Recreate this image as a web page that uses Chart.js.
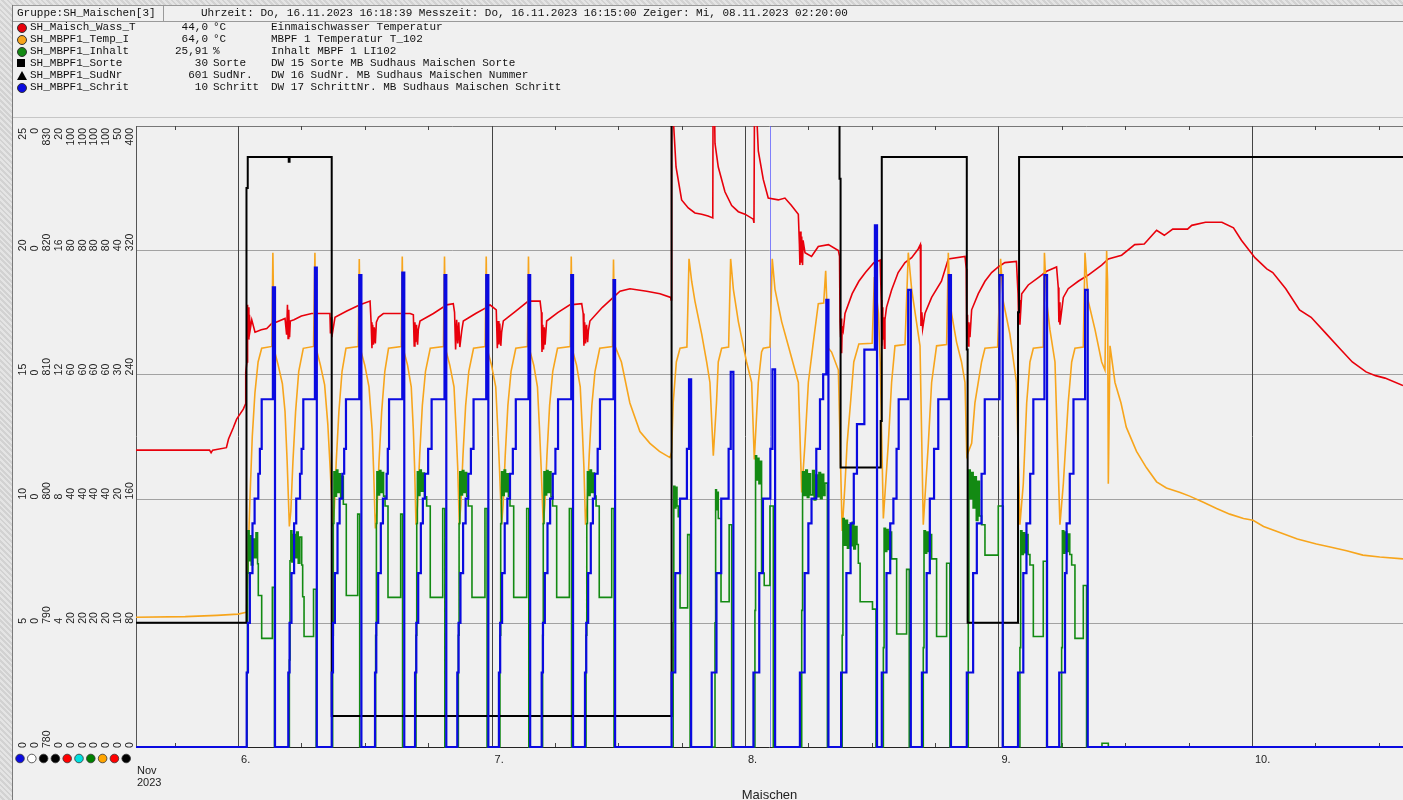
<!DOCTYPE html>
<html>
<head>
<meta charset="utf-8">
<script src="https://cdn.jsdelivr.net/npm/chart.js@4.4.0/dist/chart.umd.min.js"></script>
<style>
  body {
    margin: 0; width: 1403px; height: 800px; overflow: hidden; position: relative;
    background: repeating-linear-gradient(45deg, #e4e4e4 0 2px, #d2d2d2 2px 4px);
  }
  #panel { position: absolute; left: 12px; top: 5px; right: 0; bottom: 0; background: #f0f0f0; border-left: 1px solid #7a7a7a; }
  #row1 { position: absolute; left: 13px; top: 5px; right: 0; height: 15px; border-top: 1px solid #9a9a9a; border-bottom: 1px solid #9a9a9a; }
  #grp { position: absolute; left: 13px; top: 5px; width: 150px; height: 15px; border-right: 1px solid #9a9a9a; border-top: 1px solid #9a9a9a; border-bottom: 1px solid #9a9a9a; }
  #sep { position: absolute; left: 13px; top: 117px; right: 0; border-top: 1px solid #c6c6c6; }
  .mono { position: absolute; font: 11px "Liberation Mono", "Courier New", monospace; line-height: 13px; color: #111; white-space: pre; }
  .ico { position: absolute; width: 8px; height: 8px; }
  canvas { position: absolute; left: 0; top: 0; }
</style>
</head>
<body>
<div id="panel"></div>
<div id="row1"></div>
<div id="grp"></div>
<div id="sep"></div>
<canvas id="chart" width="1403" height="800"></canvas>
<div class="mono" style="left:17px;top:7px">Gruppe:SH_Maischen[3]</div>
<div class="mono" style="left:201px;top:7px">Uhrzeit: Do, 16.11.2023 16:18:39 Messzeit: Do, 16.11.2023 16:15:00 Zeiger: Mi, 08.11.2023 02:20:00</div>
<div id="legend"></div>
<script>
// Zeitachse: Stunden ab 06.11.2023 00:00
const xMin = -9.66, xMax = 110.3;
const dayHours = [0, 24, 48, 72, 96];
const dayLabels = ['6.', '7.', '8.', '9.', '10.'];
const minorHours = [-6, 6, 12, 18, 30, 36, 42, 54, 60, 66, 78, 84, 90, 102, 108];
const gridPct = [0, 20, 40, 60, 80, 100];
const cursorHour = 50.33;

// Legende
const legNames = ['SH_Maisch_Wass_T', 'SH_MBPF1_Temp_I', 'SH_MBPF1_Inhalt', 'SH_MBPF1_Sorte', 'SH_MBPF1_SudNr', 'SH_MBPF1_Schrit'];
const legValues = ['44,0', '64,0', '25,91', '30', '601', '10'];
const legUnits = ['°C', '°C', '%', 'Sorte', 'SudNr.', 'Schritt'];
const legDescs = ['Einmaischwasser Temperatur', 'MBPF 1 Temperatur T_102', 'Inhalt MBPF 1 LI102',
  'DW 15 Sorte MB Sudhaus Maischen Sorte', 'DW 16 SudNr. MB Sudhaus Maischen Nummer', 'DW 17 SchrittNr. MB Sudhaus Maischen Schritt'];
const legColors = ['#e8000b', '#f7a51c', '#138a13', '#000000', '#000000', '#0a0ae0'];
const legShapes = ['circle', 'circle', 'circle', 'square', 'triangle', 'circle'];

// Achsbeschriftungen (Spalten links, von oben nach unten)
const axBlau = ['25', '20', '15', '10', '5', '0'];
const axWeiss = ['0', '0', '0', '0', '0', '0'];
const axSudNr = ['830', '820', '810', '800', '790', '780'];
const axSorte = ['20', '16', '12', '8', '4', '0'];
const axRot = ['100', '80', '60', '40', '20', '0'];
const axCyan = ['100', '80', '60', '40', '20', '0'];
const axGruen = ['100', '80', '60', '40', '20', '0'];
const axOrange = ['100', '80', '60', '40', '20', '0'];
const axWasser = ['50', '40', '30', '20', '10', '0'];
const axSchwarz = ['400', '320', '240', '160', '80', '0'];
const axCols = [axBlau, axWeiss, axSudNr, axSorte, axRot, axCyan, axGruen, axOrange, axWasser, axSchwarz];
const axDots = ['#0a0ae0', '#ffffff', '#000000', '#000000', '#ff0000', '#00e0e0', '#008000', '#ffa500', '#ff0000', '#000000'];

// Einmaischwasser Temperatur [°C], Skala 0..50
const wasserT = [[-9.66,23.9],[-2.7,23.9],[-2.55,23.7],[-2.4,23.9],[-1.1,24.1],[-0.9,24.8],[-0.45,25.7],[-0.13,26.4],[0.5,27.2],[0.7,27.6],[0.73,30.2],[0.85,31],[0.88,35.6],[0.93,33.2],[0.98,35.4],[1.03,32.8],[1.08,34.8],[1.15,33.6],[1.3,34.4],[1.61,33.4],[2.2,33.6],[2.72,33.7],[3.19,34.1],[3.6,34.2],[4.45,34.5],[4.6,33.2],[4.68,35.6],[4.74,32.9],[4.8,35.2],[4.88,33.0],[4.95,34.3],[5.3,34.4],[6.0,34.7],[6.97,34.9],[8.7,34.9],[8.75,33.3],[8.82,34.6],[8.88,33.0],[9.18,34.6],[10.3,35.1],[11.55,35.6],[12.5,35.9],[12.6,34.2],[12.68,32.1],[12.75,34.0],[12.82,32.4],[12.9,33.8],[13.0,32.5],[13.1,34.2],[13.3,34.6],[13.76,34.9],[16.3,34.9],[16.6,34.8],[16.68,32.3],[16.75,34.2],[16.82,32.6],[16.9,34.0],[17.0,32.4],[17.07,33.6],[17.23,34.3],[18.5,34.9],[19.76,35.6],[20.38,35.7],[20.5,35.0],[20.6,32.0],[20.7,34.4],[20.8,32.5],[20.9,34.2],[21.0,32.2],[21.18,33.5],[21.33,34.3],[22.5,34.9],[23.54,35.4],[23.85,35.6],[24.45,35.2],[24.55,32.1],[24.62,34.3],[24.7,32.4],[24.78,34.1],[24.88,32.3],[24.96,33.4],[25.12,34.3],[26.3,35.1],[27.48,35.9],[28.6,35.9],[28.72,35.0],[28.78,31.8],[28.85,34.0],[28.92,32.0],[29.0,33.8],[29.07,32.4],[29.22,34.3],[30.3,35.0],[31.42,35.6],[32.54,35.7],[32.68,34.9],[32.75,32.3],[32.82,34.2],[32.9,32.5],[33.0,34.0],[33.1,32.6],[33.17,33.5],[33.32,34.3],[34.5,35.4],[35.53,36.2],[36.16,36.7],[37.11,36.9],[38.69,36.7],[39.95,36.5],[40.96,36.2],[41.0,36.0],[41.05,60],[41.15,60],[41.25,50],[41.47,46.7],[42.0,44.05],[42.63,43.4],[43.26,43.0],[43.9,42.9],[44.5,42.75],[44.95,42.6],[45.0,60],[45.1,52],[45.16,48.6],[45.47,46.7],[46.1,44.7],[46.74,43.6],[47.37,43.1],[48.0,42.9],[48.78,42.5],[48.85,42.2],[48.94,60],[49.05,52],[49.26,48.0],[49.73,45.7],[50.2,44.2],[51.15,44.05],[51.78,44.2],[52.4,43.6],[53.05,42.9],[53.15,40.5],[53.2,38.8],[53.25,41.5],[53.3,39.0],[53.37,41.1],[53.45,38.8],[53.5,40.8],[53.68,39.8],[54.3,39.5],[54.94,40.3],[55.9,40.45],[56.84,39.97],[56.95,39.5],[57.0,34.2],[57.05,33.0],[57.1,34.5],[57.15,31.7],[57.2,33.8],[57.3,33.5],[57.47,34.9],[58.15,36.5],[58.78,37.5],[59.4,38.2],[60.2,39.0],[60.8,39.2],[60.9,36],[60.95,32.3],[61.0,35.4],[61.05,32.8],[61.12,34.6],[61.2,32.1],[61.25,34.4],[61.4,35.4],[61.88,36.8],[62.5,38.2],[63.15,39.0],[63.78,39.4],[64.4,40.1],[64.6,40.45],[64.66,33.9],[64.75,35.0],[64.82,33.7],[65.04,34.9],[65.67,36.2],[66.6,37.5],[67.25,39.3],[68.83,39.5],[68.95,38.5],[69.0,32.9],[69.07,34.8],[69.13,32.3],[69.2,34.2],[69.3,33.0],[69.46,35.2],[70.09,36.5],[70.72,37.5],[71.35,38.2],[71.98,38.65],[72.6,39.0],[73.7,39.1],[73.85,36.5],[73.9,34.6],[73.95,36.0],[74.03,34.0],[74.2,36.5],[74.82,37.2],[75.77,37.8],[76.56,38.3],[77.5,38.65],[77.66,37.0],[77.72,34.2],[77.78,35.8],[77.82,34.0],[78.14,36.2],[78.6,36.9],[79.55,37.5],[80.5,38.0],[81.77,38.8],[82.4,39.3],[83.66,39.6],[84.9,40.45],[85.8,40.5],[86.97,41.6],[87.7,41.2],[88.5,41.7],[89.9,41.7],[90.3,42.0],[91.6,42.25],[93.15,42.25],[94.25,41.8],[95.0,40.8],[96.1,39.6],[96.28,39.4],[97.4,38.5],[97.97,38.2],[99.2,36.9],[100.5,35.2],[101.6,34.6],[103.0,33.3],[104.4,32.0],[105.5,31.0],[106.8,30.2],[107.7,29.9],[108.6,29.7],[110.3,29.1]];

// MBPF1 Temperatur [°C], Skala 0..100
const tempMbpf = [[-9.66,20.9],[-5,21.0],[-2,21.2],[0.0,21.4],[0.78,21.7],[0.82,22.5],[0.9,27],[1.0,33],[1.15,41],[1.35,50],[1.6,57],[1.9,62],[2.24,64.2],[3.2,64.5],[3.3,79.6],[3.42,64.0],[3.8,61.5],[4.2,58.5],[4.45,54],[4.65,46],[4.86,35.5],[5.0,38],[5.2,46],[5.45,54],[5.75,60.5],[6.18,64.2],[7.15,64.5],[7.28,79.6],[7.38,64.3],[7.8,61.5],[8.2,58.3],[8.5,52],[8.75,44],[8.98,35.5],[9.12,38.5],[9.3,46],[9.55,54],[9.85,60.5],[10.22,64.2],[11.38,64.5],[11.48,78.6],[11.6,64.0],[12.0,61.5],[12.4,58],[12.7,51],[12.85,44],[13.0,35.2],[13.15,38],[13.35,46],[13.6,54],[13.9,60.5],[14.25,64.2],[15.45,64.5],[15.55,79.0],[15.66,64.0],[16.05,61.5],[16.4,58],[16.6,51],[16.72,45],[16.85,35.8],[17.0,39],[17.2,47],[17.45,55],[17.75,60.5],[18.2,64.2],[19.45,64.5],[19.55,79.0],[19.66,64.0],[20.05,61.5],[20.45,58],[20.65,51],[20.8,45],[20.95,35.8],[21.1,39],[21.3,47],[21.55,55],[21.85,60.5],[22.3,64.2],[23.4,64.5],[23.5,79.0],[23.6,64.0],[24.0,61.5],[24.4,58],[24.6,51],[24.75,45],[24.96,35.8],[25.1,39],[25.3,47],[25.55,55],[25.85,60.5],[26.3,64.2],[27.4,64.5],[27.5,79.0],[27.6,64.0],[28.0,61.5],[28.35,58],[28.55,51],[28.7,45],[28.9,35.8],[29.05,39],[29.25,47],[29.5,55],[29.8,60.5],[30.25,64.2],[31.45,64.5],[31.55,79.0],[31.65,64.0],[32.05,61.5],[32.4,58],[32.6,51],[32.75,45],[32.9,35.8],[33.05,39],[33.25,47],[33.5,55],[33.8,60.5],[34.25,64.2],[35.45,64.5],[35.55,78.5],[35.68,64.6],[36.3,62],[37.1,55.4],[38.05,50.8],[39.0,48.9],[39.9,47.6],[40.9,46.6],[41.05,47.5],[41.2,55.4],[41.5,62],[41.85,64.2],[42.5,64.4],[42.7,78.6],[42.95,75.0],[43.26,71.8],[43.9,66.5],[44.37,62],[44.68,58.7],[45.0,46.9],[45.3,55.4],[45.47,62],[45.79,64.2],[46.45,64.4],[46.64,78.6],[46.9,73.7],[47.37,68.5],[48.15,62],[48.63,58.7],[48.88,46.3],[49.26,58.7],[49.57,63.6],[49.73,64.2],[50.36,64.4],[50.58,78.6],[50.84,73.7],[51.47,68.5],[52.1,64.6],[53.05,58.7],[53.37,41.0],[53.68,48.9],[54.0,58.7],[54.47,65.2],[54.94,71.4],[55.45,71.5],[55.64,76.7],[55.9,64.2],[56.2,63.6],[56.84,60.7],[57.2,34.8],[57.47,42.4],[57.67,48.9],[57.99,55.4],[58.3,62],[58.78,64.9],[60.04,65.0],[60.25,75.7],[60.64,69.8],[60.8,62],[61.1,36.8],[61.57,48.9],[61.88,58.7],[62.2,64.6],[63.15,64.8],[63.46,79.6],[63.78,73.7],[64.57,64.6],[64.88,35.8],[65.36,48.9],[65.67,58.7],[66.14,64.6],[67.09,64.8],[67.25,79.6],[67.4,71.8],[67.56,69.8],[68.03,65.2],[68.5,62],[68.83,58.7],[69.0,46.9],[69.46,48.9],[69.77,55.4],[70.4,62],[70.72,64.2],[71.92,64.4],[72.2,78.6],[72.45,71.8],[73.08,66.5],[73.7,58.7],[74.03,35.8],[74.35,42.4],[74.67,55.4],[74.98,62],[75.3,64.2],[76.24,64.4],[76.35,79.6],[76.56,71.8],[76.87,67.2],[77.35,62],[77.82,35.8],[78.14,42.4],[78.6,55.4],[78.93,62],[79.24,64.2],[80.03,64.4],[80.19,79.6],[80.5,71.8],[81.14,67.2],[81.77,62],[82.08,60.7],[82.24,79.9],[82.33,75.0],[82.4,42.4],[82.56,64.6],[83.03,58.7],[83.6,55.4],[84.1,51.5],[85.07,47.6],[86.0,45.0],[86.97,42.7],[87.9,41.7],[89.2,41.0],[90.1,40.4],[91.4,39.4],[92.65,38.4],[93.9,37.5],[95.2,36.8],[96.1,36.5],[97.1,35.5],[98.7,34.5],[100.3,33.5],[102.1,32.7],[103.4,32.2],[104.96,31.6],[106.5,30.9],[108.1,30.6],[110.3,30.3]];

// MBPF1 Inhalt [%], Skala 0..100 (Stufenwerte)
const inhalt = [[-9.66,0],
  [0.85,12],[0.9,28],[0.95,34.8],[1.05,30],[1.15,34],[1.25,29.3],[1.4,33.5],[1.55,30.5],[1.7,34.5],[1.85,29.5],[1.92,24.4],[2.24,17.5],[3.25,25.7],[3.45,0],
  [4.86,14],[4.92,30],[5.0,34.8],[5.1,29.8],[5.25,34.2],[5.4,30.5],[5.55,34.6],[5.7,29.6],[5.85,33.8],[6.03,29.3],[6.12,24.2],[6.25,17.8],[7.15,25.4],[7.4,0],
  [8.96,18],[9.02,36],[9.08,44.3],[9.2,40.4],[9.32,44.6],[9.45,41],[9.6,44],[9.72,40.2],[9.85,43.6],[9.97,39.1],[10.25,24.4],[11.33,37.5],[11.52,0],
  [13.03,18],[13.1,36],[13.15,44.3],[13.27,40.6],[13.4,44.5],[13.52,41],[13.65,44.2],[13.78,40.4],[13.92,38.8],[14.2,24.1],[15.4,37.5],[15.58,0],
  [16.85,18],[16.92,36],[16.98,44.3],[17.1,40.5],[17.22,44.6],[17.35,41.2],[17.5,44.1],[17.65,40.3],[17.86,38.8],[18.2,24.1],[19.38,38.4],[19.58,0],
  [20.86,18],[20.93,36],[21.0,44.3],[21.12,40.6],[21.25,44.5],[21.38,41.0],[21.52,44.2],[21.65,40.4],[21.8,38.8],[22.15,24.1],[23.38,38.4],[23.58,0],
  [24.8,18],[24.87,36],[24.95,44.3],[25.07,40.5],[25.2,44.6],[25.33,41.1],[25.47,44.0],[25.6,40.4],[25.75,38.8],[26.1,24.1],[27.33,38.4],[27.53,0],
  [28.84,18],[28.9,36],[28.97,44.3],[29.1,40.6],[29.22,44.5],[29.35,41.0],[29.5,44.3],[29.63,40.3],[29.79,38.8],[30.17,24.1],[31.37,38.4],[31.58,0],
  [32.95,18],[33.02,36],[33.08,44.3],[33.2,40.5],[33.33,44.6],[33.46,41.0],[33.6,44.1],[33.75,40.4],[33.9,38.8],[34.2,24.1],[35.38,38.4],[35.6,0],
  [41.2,20],[41.26,42.0],[41.36,38.5],[41.46,41.8],[41.56,38.8],[41.68,37.1],[41.85,22.4],[42.57,34.2],[42.8,0],
  [45.16,20],[45.22,41.4],[45.3,38.2],[45.4,41.0],[45.47,36.8],[45.73,23.4],[46.5,35.8],[46.74,0],
  [48.94,22],[49.0,46.9],[49.1,43.0],[49.2,46.5],[49.32,42.4],[49.45,46.0],[49.57,28.0],[49.82,26.0],[50.36,38.8],[50.68,0],
  [53.37,22],[53.45,44.3],[53.6,40.5],[53.75,44.6],[53.9,40.2],[54.05,44.0],[54.2,40.6],[54.4,44.5],[54.55,39.8],[54.7,43.8],[54.85,40.3],[55.0,44.2],[55.15,40.0],[55.3,43.9],[55.45,40.5],[55.57,42.5],[55.8,0],
  [57.2,18],[57.27,36.8],[57.4,32.5],[57.55,36.5],[57.7,32.0],[57.85,35.8],[58.0,32.4],[58.15,36.2],[58.3,31.9],[58.45,35.5],[58.6,32.6],[58.73,29.6],[58.9,23.4],[60.07,22.2],[60.4,0],
  [61.1,16],[61.17,35.2],[61.3,31.5],[61.42,35.0],[61.55,31.8],[61.7,34.6],[61.88,30.3],[62.36,18.2],[63.3,28.6],[63.55,0],
  [64.88,16],[64.95,34.8],[65.08,31.2],[65.2,34.6],[65.35,31.5],[65.5,34.2],[65.67,30.3],[66.14,17.8],[67.09,29.6],[67.4,0],
  [69.14,20],[69.2,44.6],[69.32,40.0],[69.45,44.2],[69.6,38.5],[69.75,43.5],[69.9,36.5],[70.05,42.8],[70.2,37.2],[70.4,35.8],[70.72,30.9],[71.98,38.8],[72.45,0],
  [74.03,16],[74.1,34.8],[74.22,31.0],[74.35,34.5],[74.5,31.3],[74.65,34.2],[74.8,31.0],[74.98,29.3],[75.3,17.8],[76.24,29.9],[76.56,0],
  [77.98,16],[78.05,34.8],[78.18,31.2],[78.3,34.6],[78.45,31.5],[78.6,34.3],[78.75,31.0],[78.93,29.3],[79.24,17.5],[80.03,26.0],[80.34,0],
  [81.8,0.6],[82.4,0],[110.3,0]];

// Sorte, Skala 0..20 (30 liegt ueber dem Bereich)
const sorte = [[-9.66,4],[0.8,18],[0.92,19],[4.8,18.85],[4.88,19],[8.87,1],[41.05,30],[56.95,18.3],[57.05,9],[60.85,10.5],[60.95,19],[69.0,12.8],[69.08,4],[73.85,14],[73.95,19],[110.3,19]];

// Schritt, Skala 0..25 (Stufenwerte)
const schritt = [[-9.66,0],
  [0.82,3],[0.94,5],[1.12,7],[1.37,9],[1.57,10],[1.92,11],[2.07,12],[2.24,14],[3.3,18.5],[3.5,0],
  [4.76,3],[4.88,5],[5.06,7],[5.31,9],[5.51,10],[5.87,11],[6.02,12],[6.18,14],[7.28,19.3],[7.46,0],
  [8.87,3],[8.99,5],[9.17,7],[9.42,9],[9.62,10],[9.88,11],[10.05,12],[10.22,14],[11.48,19],[11.68,0],
  [12.97,3],[13.09,5],[13.27,7],[13.52,9],[13.72,10],[14.07,11],[14.18,12],[14.3,14],[15.55,19.1],[15.74,0],
  [16.76,3],[16.88,5],[17.06,7],[17.31,9],[17.5,10],[17.7,11],[18.0,12],[18.33,14],[19.55,19],[19.72,0],
  [20.76,3],[20.88,5],[21.06,7],[21.31,9],[21.55,10],[21.8,11],[22.05,12],[22.3,14],[23.5,19],[23.7,0],
  [24.7,3],[24.82,5],[25.0,7],[25.25,9],[25.5,10],[25.75,11],[26.02,12],[26.3,14],[27.5,19],[27.66,0],
  [28.75,3],[28.87,5],[29.05,7],[29.3,9],[29.55,10],[29.8,11],[30.05,12],[30.3,14],[31.55,19],[31.72,0],
  [32.85,3],[32.97,5],[33.15,7],[33.4,9],[33.6,10],[33.8,11],[34.05,12],[34.27,14],[35.55,18.8],[35.7,0],
  [41.05,3],[41.4,7],[41.85,10],[42.5,12],[42.7,14.8],[42.9,0],
  [44.85,3],[45.3,7],[45.75,10],[46.45,12],[46.65,15.1],[46.9,0],
  [48.8,3],[49.35,7],[49.7,10],[50.4,12],[50.6,15.2],[50.85,0],
  [53.2,3],[53.65,7],[54.0,9],[54.3,10],[54.75,12],[55.1,14],[55.4,15],[55.7,18],[55.9,0],
  [57.1,3],[57.6,7],[58.0,9],[58.3,11],[58.6,13],[59.3,16],[60.3,21],[60.5,0],
  [60.95,3],[61.4,7],[61.75,9],[62.05,10],[62.35,12],[62.55,14],[63.45,18.4],[63.7,0],
  [64.75,3],[65.2,7],[65.5,10],[65.9,12],[66.3,14],[67.3,19],[67.5,0],
  [69.0,3],[69.6,7],[69.95,9],[70.4,11],[70.7,14],[72.1,19],[72.4,0],
  [73.85,3],[74.35,7],[74.65,9],[75.0,11],[75.3,14],[76.35,19],[76.6,0],
  [77.75,3],[78.3,7],[78.45,9],[78.75,11],[79.1,14],[80.2,18.4],[80.45,0],
  [110.3,0]];

// Legende aufbauen
const legend = document.getElementById('legend');
legNames.forEach((name, i) => {
  const top = 20.5 + 12 * i;
  const ico = document.createElement('div');
  ico.className = 'ico';
  ico.style.left = '17px';
  ico.style.top = (top + 2.5) + 'px';
  if (legShapes[i] === 'circle') {
    ico.style.background = legColors[i];
    ico.style.borderRadius = '50%';
    ico.style.border = '1px solid #333';
  } else if (legShapes[i] === 'square') {
    ico.style.background = legColors[i];
  } else {
    ico.style.width = '0'; ico.style.height = '0';
    ico.style.borderLeft = '5px solid transparent';
    ico.style.borderRight = '5px solid transparent';
    ico.style.borderBottom = '9px solid ' + legColors[i];
  }
  legend.appendChild(ico);
  const add = (text, css) => {
    const d = document.createElement('div');
    d.className = 'mono';
    d.textContent = text;
    d.style.top = top + 'px';
    Object.assign(d.style, css);
    legend.appendChild(d);
  };
  add(name, { left: '30px' });
  add(legValues[i], { left: '150px', width: '58px', textAlign: 'right' });
  add(legUnits[i], { left: '213px' });
  add(legDescs[i], { left: '271px' });
});

const pts = arr => arr.map(([x, y]) => ({ x, y }));
const clip = { left: 0, top: 0, right: 0, bottom: 3 };

const frame = {
  id: 'frame',
  beforeDatasetsDraw(chart) {
    const { ctx, chartArea: a, scales } = chart;
    const xs = scales.x, ys = scales.yPct;
    const line = (x1, y1, x2, y2) => { ctx.beginPath(); ctx.moveTo(x1, y1); ctx.lineTo(x2, y2); ctx.stroke(); };
    ctx.save();
    ctx.lineWidth = 1;
    ctx.strokeStyle = '#a2a2a2';
    gridPct.slice(1, -1).forEach(v => {
      const py = Math.round(ys.getPixelForValue(v)) + 0.5;
      line(a.left, py, a.right, py);
    });
    ctx.strokeStyle = '#777';
    line(a.left, a.top + 0.5, a.right, a.top + 0.5);
    ctx.strokeStyle = '#444';
    dayHours.forEach(h => {
      const px = Math.round(xs.getPixelForValue(h)) + 0.5;
      line(px, a.top, px, a.bottom);
    });
    minorHours.forEach(h => {
      const px = Math.round(xs.getPixelForValue(h)) + 0.5;
      line(px, a.top, px, a.top + 4);
      line(px, a.bottom - 4, px, a.bottom);
    });
    ctx.strokeStyle = '#555';
    line(a.left + 0.5, a.top, a.left + 0.5, a.bottom);
    ctx.strokeStyle = '#222';
    line(a.left, a.bottom + 0.5, a.right, a.bottom + 0.5);
    ctx.strokeStyle = 'rgba(90,90,255,0.75)';
    const cx = Math.round(xs.getPixelForValue(cursorHour)) + 0.5;
    line(cx, a.top, cx, a.bottom);
    ctx.restore();
  },
  afterDraw(chart) {
    const { ctx, chartArea: a, scales } = chart;
    const xs = scales.x, ys = scales.yPct;
    ctx.save();
    ctx.fillStyle = '#222';
    ctx.font = '10.5px "Liberation Sans", Arial, sans-serif';
    ctx.textBaseline = 'middle';
    axCols.forEach((labels, c) => {
      const cx = 23.5 + 11.85 * c;
      labels.forEach((txt, k) => {
        const v = gridPct[gridPct.length - 1 - k];
        const py = ys.getPixelForValue(v);
        ctx.save();
        if (k === 0) {
          ctx.translate(cx, a.top + 2);
          ctx.rotate(-Math.PI / 2);
          ctx.textAlign = 'right';
        } else {
          ctx.translate(cx, py + 1);
          ctx.rotate(-Math.PI / 2);
          ctx.textAlign = 'left';
        }
        ctx.fillText(txt, 0, 0);
        ctx.restore();
      });
      ctx.beginPath();
      ctx.arc(20 + 11.8 * c, 758.5, 4.3, 0, Math.PI * 2);
      ctx.fillStyle = axDots[c];
      ctx.fill();
      ctx.lineWidth = 0.8;
      ctx.strokeStyle = '#333';
      ctx.stroke();
      ctx.fillStyle = '#222';
    });
    ctx.font = '11px "Liberation Sans", Arial, sans-serif';
    ctx.textAlign = 'left';
    dayHours.forEach((h, i) => {
      ctx.fillText(dayLabels[i], xs.getPixelForValue(h) + 3, 760);
    });
    ctx.fillText('Nov', a.left + 1, 771);
    ctx.fillText('2023', a.left + 1, 783);
    ctx.font = '13px "Liberation Sans", Arial, sans-serif';
    ctx.textAlign = 'center';
    ctx.textBaseline = 'top';
    ctx.fillText('Maischen', (a.left + a.right) / 2, 789);
    ctx.restore();
  }
};

new Chart(document.getElementById('chart'), {
  type: 'line',
  data: {
    datasets: [
      { data: pts(wasserT), yAxisID: 'yRed', borderColor: '#e8000b', borderWidth: 1.6, order: 4, clip },
      { data: pts(tempMbpf), yAxisID: 'yPct', borderColor: '#f7a51c', borderWidth: 1.6, order: 3, clip },
      { data: pts(inhalt), yAxisID: 'yPct', borderColor: '#138a13', borderWidth: 1.6, stepped: true, order: 2, clip },
      { data: pts(sorte), yAxisID: 'ySorte', borderColor: '#000000', borderWidth: 2, stepped: true, order: 1, clip },
      { data: pts(schritt), yAxisID: 'yBlue', borderColor: '#0a0ae0', borderWidth: 2.2, stepped: true, order: 0, clip }
    ]
  },
  options: {
    responsive: false,
    animation: false,
    parsing: false,
    layout: { padding: { left: 136, top: 126, right: 0, bottom: 53 } },
    elements: { point: { radius: 0 }, line: { tension: 0 } },
    plugins: { legend: { display: false }, tooltip: { enabled: false } },
    scales: {
      x: { type: 'linear', display: false, min: xMin, max: xMax },
      yPct: { display: false, min: 0, max: 100 },
      yRed: { display: false, min: 0, max: 50 },
      yBlue: { display: false, min: 0, max: 25 },
      ySorte: { display: false, min: 0, max: 20 }
    }
  },
  plugins: [frame]
});
</script>
</body>
</html>
